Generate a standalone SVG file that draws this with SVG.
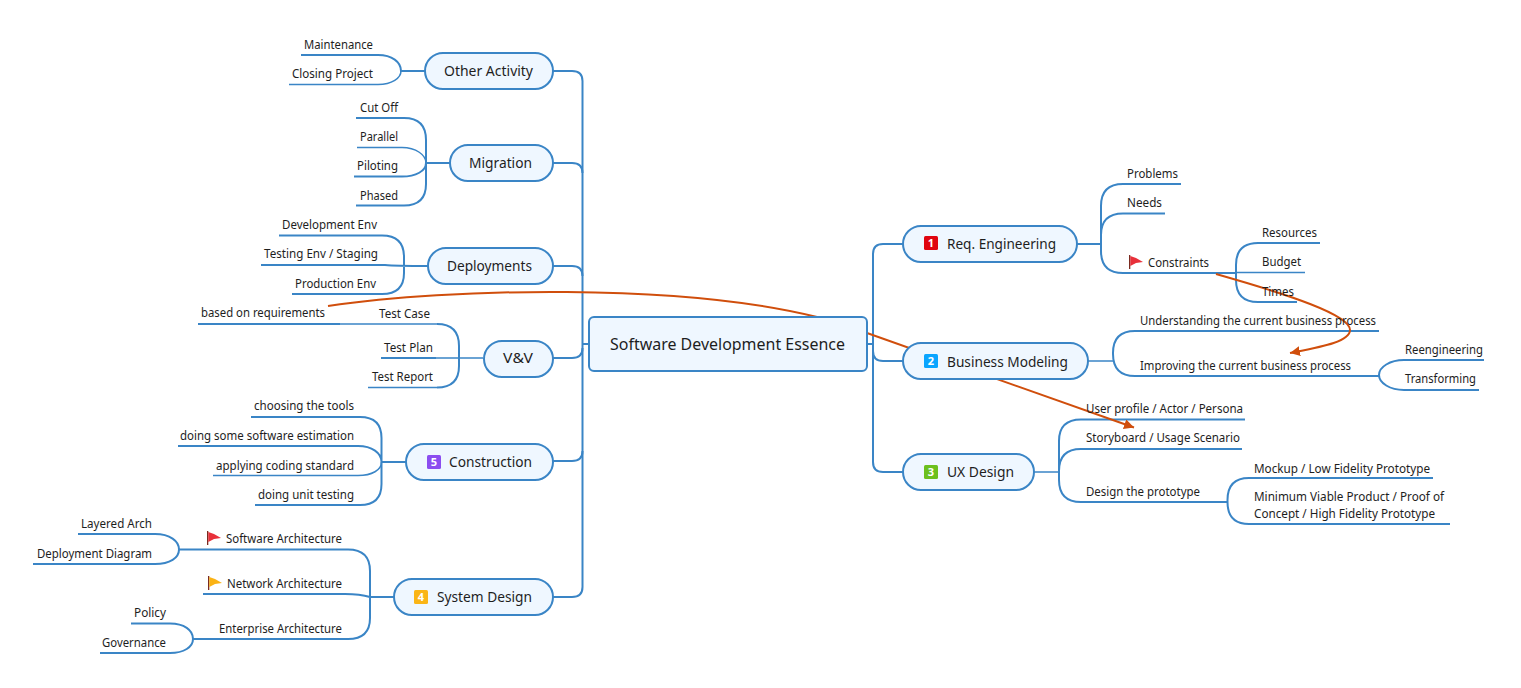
<svg xmlns="http://www.w3.org/2000/svg" width="1521" height="688" viewBox="0 0 1521 688">
<style>
text{font-family:"Noto Sans","Open Sans","Liberation Sans",sans-serif;fill:#1e1e1e}
.t{font-size:12px}
.n{font-size:13.5px}
.c{font-size:16px}
.b{font-size:11px;font-weight:700;fill:#fff;text-anchor:middle}
.box{fill:#eff7ff;stroke:#3a85c6;stroke-width:2}
.l,.s,.r{fill:none}
.l{stroke:#3a85c6;stroke-width:2}
.s{stroke:#3a85c6;stroke-width:1.5}
.r{stroke:#d04e0c;stroke-width:2}
</style>
<defs>
<marker id="arrow" markerUnits="userSpaceOnUse" markerWidth="12" markerHeight="12" refX="10" refY="5" orient="auto"><path d="M0 0L10 5L0 10Z" fill="#d04e0c"/></marker>
<g id="flag"><rect x="0" y="0" width="1.3" height="14" fill="#7a2b20"/><path d="M1.300 1L7 3L14 7L7 8L1.300 11Z"/></g>
</defs>
<g id="connectors">
<path class="l" d="M553 71H572Q582.5 71 582.5 81V587Q582.5 597 572 597H553"/>
<path class="l" d="M553 163H572Q582.5 163 582.5 173M553 266H572Q582.5 266 582.5 276M553 358H572Q582.5 358 582.5 348M553 461H572Q582.5 461 582.5 451M582.5 344H589"/>
<path class="l" d="M903 244H883Q873 244 873 254V462Q873 472 883 472H903M873 351Q873 361 883 361H903M867 344H873"/>
<path class="l" d="M301 55H378C392 55 401 62 401 71H425"/>
<path class="s" d="M289 84.5H378C392 84.5 401 78 401 71"/>
<path class="l" d="M356 118H404Q426 118 426 140V184Q426 205.5 404 205.5H356M354 176.5H402C416 176.5 426 171 426 163H450"/>
<path class="s" d="M357 147.5H402C416 147.5 426 155 426 163"/>
<path class="l" d="M279 235.5H382Q404 235.5 404 257V273Q404 294 382 294H292M261 265H385Q395 266 428 266"/>
<path class="l" d="M198 324H340"/>
<path class="s" d="M340 324H437"/>
<path class="l" d="M437 324Q459 324 459 346V366Q459 387.5 437 387.5"/>
<path class="s" d="M437 387.5H368M436 358H483"/>
<path class="l" d="M381 358H436"/>
<path class="l" d="M251 417H360Q381.500 417 381.500 438V484Q381.500 505 360 505H255M381.500 462H406M178 446H358C372 446 381.500 453 381.500 462"/>
<path class="s" d="M213 475.500H358C372 475.500 381.500 470 381.500 462"/>
<path class="l" d="M178 549.500H348Q370 549.500 370 571V618Q370 639 348 639H193M203 594H345Q360 594 370 597H394"/>
<path class="l" d="M78 534H155C170 534 179 541 179 549.500C179 558 170 564 155 564H33"/>
<path class="l" d="M131 623.500H170C184 623.500 193 630 193 639C193 647 184 653 170 653H100"/>
<path class="l" d="M1123 184Q1101 184 1101 206V251Q1101 273 1123 273H1236M1181 184H1123M1165 213.500H1123Q1101 213.500 1101 235M1077 244H1101"/>
<path class="l" d="M1320 243H1258Q1236 243 1236 265V280Q1236 302 1258 302H1297"/>
<path class="s" d="M1236 272.500H1305"/>
<path class="s" d="M1088 361H1113"/>
<path class="l" d="M1379 331H1135Q1113 331 1113 353V354Q1113 376 1135 376H1379"/>
<path class="l" d="M1484 360H1404C1390 360 1379 367 1379 375C1379 383 1390 390 1404 390H1479"/>
<path class="s" d="M1034 472H1059"/>
<path class="l" d="M1245 419.500H1081Q1059 419.500 1059 441V480Q1059 502 1081 502H1227M1242 449H1081Q1059 449 1059 471"/>
<path class="l" d="M1433 478H1249Q1227.500 478 1227.500 500V502Q1227.500 524 1249 524H1450"/>
<path class="r" d="M328 306C450 288 680 283 817 317"/>
<path class="r" d="M867 333L1134 427.500" marker-end="url(#arrow)"/>
<path class="r" d="M1216 274C1290 295 1350 315 1350 330C1350 342 1320 347 1290 353" marker-end="url(#arrow)"/>
</g>
<g id="node-central"><rect class="box" x="589" y="317" width="278" height="54" rx="5"/><text class="c" x="610" y="350" textLength="235" lengthAdjust="spacingAndGlyphs">Software Development Essence</text></g>
<g id="node-other-activity"><rect class="box" x="425" y="53" width="128" height="36" rx="18"/><text class="n" x="444" y="76" textLength="89" lengthAdjust="spacingAndGlyphs">Other Activity</text></g>
<g id="node-migration"><rect class="box" x="450" y="145" width="103" height="36" rx="18"/><text class="n" x="469" y="168" textLength="63" lengthAdjust="spacingAndGlyphs">Migration</text></g>
<g id="node-deployments"><rect class="box" x="428" y="248" width="125" height="36" rx="18"/><text class="n" x="447" y="271" textLength="85" lengthAdjust="spacingAndGlyphs">Deployments</text></g>
<g id="node-vv"><rect class="box" x="484" y="341" width="69" height="36" rx="18"/><text class="n" x="503" y="363" textLength="30" lengthAdjust="spacingAndGlyphs">V&amp;V</text></g>
<g id="node-construction"><rect class="box" x="406" y="444" width="147" height="36" rx="18"/><rect x="427" y="455" width="14" height="14" rx="1.500" fill="#8b4df0"/><text class="b" x="434" y="466">5</text><text class="n" x="449" y="467" textLength="83" lengthAdjust="spacingAndGlyphs">Construction</text></g>
<g id="node-system-design"><rect class="box" x="394" y="579" width="159" height="36" rx="18"/><rect x="414" y="590" width="14" height="14" rx="1.500" fill="#fab516"/><text class="b" x="421" y="601">4</text><text class="n" x="437" y="602" textLength="95" lengthAdjust="spacingAndGlyphs">System Design</text></g>
<g id="node-req"><rect class="box" x="903" y="226" width="174" height="36" rx="18"/><rect x="924" y="236" width="14" height="14" rx="1.500" fill="#e0050f"/><text class="b" x="931" y="247">1</text><text class="n" x="947" y="249" textLength="109" lengthAdjust="spacingAndGlyphs">Req. Engineering</text></g>
<g id="node-bm"><rect class="box" x="903" y="343" width="185" height="36" rx="18"/><rect x="924" y="354" width="14" height="14" rx="1.500" fill="#0aa5ff"/><text class="b" x="931" y="365">2</text><text class="n" x="947" y="367" textLength="121" lengthAdjust="spacingAndGlyphs">Business Modeling</text></g>
<g id="node-ux"><rect class="box" x="903" y="454" width="131" height="36" rx="18"/><rect x="924" y="465" width="14" height="14" rx="1.500" fill="#6cc01e"/><text class="b" x="931" y="476">3</text><text class="n" x="947" y="477" textLength="67" lengthAdjust="spacingAndGlyphs">UX Design</text></g>
<g id="topic-maintenance"><text class="t" x="304" y="49" textLength="69" lengthAdjust="spacingAndGlyphs">Maintenance</text></g>
<g id="topic-closing"><text class="t" x="292" y="78" textLength="81" lengthAdjust="spacingAndGlyphs">Closing Project</text></g>
<g id="topic-cutoff"><text class="t" x="360" y="112" textLength="38" lengthAdjust="spacingAndGlyphs">Cut Off</text></g>
<g id="topic-parallel"><text class="t" x="360" y="141" textLength="38" lengthAdjust="spacingAndGlyphs">Parallel</text></g>
<g id="topic-piloting"><text class="t" x="357" y="170" textLength="41" lengthAdjust="spacingAndGlyphs">Piloting</text></g>
<g id="topic-phased"><text class="t" x="360" y="200" textLength="38" lengthAdjust="spacingAndGlyphs">Phased</text></g>
<g id="topic-dev"><text class="t" x="282" y="229" textLength="95" lengthAdjust="spacingAndGlyphs">Development Env</text></g>
<g id="topic-testing"><text class="t" x="264" y="258" textLength="114" lengthAdjust="spacingAndGlyphs">Testing Env / Staging</text></g>
<g id="topic-prod"><text class="t" x="295" y="288" textLength="81" lengthAdjust="spacingAndGlyphs">Production Env</text></g>
<g id="topic-based"><text class="t" x="201" y="317" textLength="124" lengthAdjust="spacingAndGlyphs">based on requirements</text></g>
<g id="topic-testcase"><text class="t" x="379" y="318" textLength="51" lengthAdjust="spacingAndGlyphs">Test Case</text></g>
<g id="topic-testplan"><text class="t" x="384" y="352" textLength="49" lengthAdjust="spacingAndGlyphs">Test Plan</text></g>
<g id="topic-testreport"><text class="t" x="372" y="381" textLength="61" lengthAdjust="spacingAndGlyphs">Test Report</text></g>
<g id="topic-tools"><text class="t" x="254" y="410" textLength="100" lengthAdjust="spacingAndGlyphs">choosing the tools</text></g>
<g id="topic-estimation"><text class="t" x="180" y="440" textLength="174" lengthAdjust="spacingAndGlyphs">doing some software estimation</text></g>
<g id="topic-coding"><text class="t" x="216" y="470" textLength="138" lengthAdjust="spacingAndGlyphs">applying coding standard</text></g>
<g id="topic-unit"><text class="t" x="258" y="499" textLength="96" lengthAdjust="spacingAndGlyphs">doing unit testing</text></g>
<g id="topic-layered"><text class="t" x="81" y="528" textLength="71" lengthAdjust="spacingAndGlyphs">Layered Arch</text></g>
<g id="topic-deploydiag"><text class="t" x="37" y="558" textLength="115" lengthAdjust="spacingAndGlyphs">Deployment Diagram</text></g>
<g id="topic-software-arch"><use href="#flag" x="207" y="531" fill="#e8303a"/><text class="t" x="226" y="543" textLength="116" lengthAdjust="spacingAndGlyphs">Software Architecture</text></g>
<g id="topic-network-arch"><use href="#flag" x="208" y="576" fill="#fbb315"/><text class="t" x="227" y="588" textLength="115" lengthAdjust="spacingAndGlyphs">Network Architecture</text></g>
<g id="topic-enterprise-arch"><text class="t" x="219" y="633" textLength="123" lengthAdjust="spacingAndGlyphs">Enterprise Architecture</text></g>
<g id="topic-policy"><text class="t" x="134" y="617" textLength="32" lengthAdjust="spacingAndGlyphs">Policy</text></g>
<g id="topic-governance"><text class="t" x="102" y="647" textLength="64" lengthAdjust="spacingAndGlyphs">Governance</text></g>
<g id="topic-problems"><text class="t" x="1127" y="178" textLength="51" lengthAdjust="spacingAndGlyphs">Problems</text></g>
<g id="topic-needs"><text class="t" x="1127" y="207" textLength="35" lengthAdjust="spacingAndGlyphs">Needs</text></g>
<g id="topic-constraints"><use href="#flag" x="1129" y="255" fill="#e8303a"/><text class="t" x="1148" y="267" textLength="61" lengthAdjust="spacingAndGlyphs">Constraints</text></g>
<g id="topic-resources"><text class="t" x="1262" y="237" textLength="55" lengthAdjust="spacingAndGlyphs">Resources</text></g>
<g id="topic-budget"><text class="t" x="1262" y="266" textLength="39" lengthAdjust="spacingAndGlyphs">Budget</text></g>
<g id="topic-times"><text class="t" x="1262" y="296" textLength="32" lengthAdjust="spacingAndGlyphs">Times</text></g>
<g id="topic-understanding"><text class="t" x="1140" y="325" textLength="236" lengthAdjust="spacingAndGlyphs">Understanding the current business process</text></g>
<g id="topic-improving"><text class="t" x="1140" y="370" textLength="211" lengthAdjust="spacingAndGlyphs">Improving the current business process</text></g>
<g id="topic-reengineering"><text class="t" x="1405" y="354" textLength="78" lengthAdjust="spacingAndGlyphs">Reengineering</text></g>
<g id="topic-transforming"><text class="t" x="1405" y="383" textLength="71" lengthAdjust="spacingAndGlyphs">Transforming</text></g>
<g id="topic-user"><text class="t" x="1086" y="413" textLength="157" lengthAdjust="spacingAndGlyphs">User profile / Actor / Persona</text></g>
<g id="topic-storyboard"><text class="t" x="1086" y="442" textLength="154" lengthAdjust="spacingAndGlyphs">Storyboard / Usage Scenario</text></g>
<g id="topic-design"><text class="t" x="1086" y="496" textLength="114" lengthAdjust="spacingAndGlyphs">Design the prototype</text></g>
<g id="topic-mockup"><text class="t" x="1254" y="473" textLength="176" lengthAdjust="spacingAndGlyphs">Mockup / Low Fidelity Prototype</text></g>
<g id="topic-mvp"><text class="t" x="1254" y="501" textLength="190" lengthAdjust="spacingAndGlyphs">Minimum Viable Product / Proof of</text><text class="t" x="1254" y="518" textLength="181" lengthAdjust="spacingAndGlyphs">Concept / High Fidelity Prototype</text></g>
</svg>
